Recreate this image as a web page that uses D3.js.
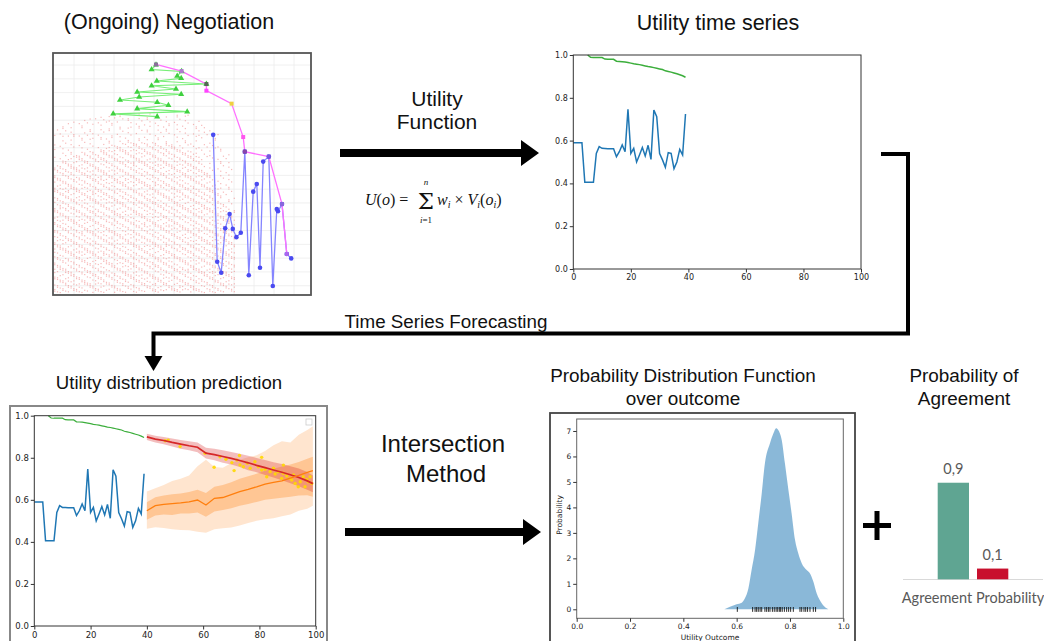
<!DOCTYPE html>
<html><head><meta charset="utf-8">
<script src="https://cdn.jsdelivr.net/npm/d3@7"></script>
<style>
body{margin:0;background:#fff;}
svg{display:block;}
</style></head><body>
<svg id="fig" width="1044" height="641"></svg>
<script>
// ---------------- data ----------------
// negotiation space: agent A utility (x) vs agent B utility (y)
const bidsB_u = [0.605,0.594,0.669,0.658,0.668,0.607,0.731,0.594,0.655,0.558,0.668,0.563,0.515,0.608,0.636,0.558,0.683,0.498,0.608];
const bidsB_v = [0.951,0.934,0.927,0.910,0.902,0.892,0.881,0.875,0.863,0.852,0.844,0.834,0.823,0.815,0.804,0.792,0.781,0.773,0.763];
const bidsA_u = [0.748,0.758,0.768,0.778,0.789,0.797,0.806,0.817,0.827,0.837,0.848,0.857,0.865,0.873,0.887,0.897,0.907,0.910,0.920,0.932,0.943];
const bidsA_v = [0.697,0.237,0.197,0.358,0.410,0.356,0.326,0.342,0.636,0.188,0.491,0.519,0.215,0.600,0.618,0.149,0.428,0.420,0.446,0.265,0.249];
const pareto_u = [0.605,0.669,0.731,0.731,0.794,0.823,0.827,0.887,0.920,0.932];
const pareto_v = [0.952,0.928,0.881,0.857,0.810,0.689,0.636,0.618,0.446,0.265];
const paretoColors = ['#8a6f9a','#b07ad0','#556655','#ff44ff','#f0d040','#ff55ee','#8844aa','#7755dd','#8866dd','#aa66ee'];
// outline of the outcome cloud (sparse upper edge and denser core)
const cloudU = [0.35,0.40,0.45,0.50,0.55,0.60,0.65,0.70,0.73,0.76,0.79,0.805];
const cloudTop = [0.72,0.75,0.76,0.77,0.775,0.775,0.77,0.77,0.74,0.70,0.62,0.48];
const cloudDenseTop = [0.58,0.62,0.64,0.66,0.67,0.67,0.66,0.63,0.58,0.50,0.40,0.30];

// utility time series (observed steps 0..39)
const oppUtility = [0.590,0.590,0.590,0.590,0.405,0.405,0.405,0.405,0.540,0.572,0.564,0.563,0.562,0.562,0.562,0.525,0.548,0.580,0.548,0.746,0.540,0.564,0.500,0.533,0.568,0.528,0.578,0.512,0.743,0.712,0.540,0.510,0.475,0.544,0.540,0.469,0.500,0.559,0.533,0.724];
const ownStart = 5;
const ownUtility = [1.000,0.989,0.988,0.988,0.988,0.988,0.981,0.980,0.980,0.980,0.971,0.970,0.969,0.967,0.965,0.962,0.959,0.957,0.955,0.952,0.949,0.946,0.944,0.941,0.938,0.935,0.932,0.926,0.923,0.920,0.916,0.912,0.908,0.903,0.896];

// forecast (steps 40..99)
const fcT      = [40,43,46,49,52,55,58,61,64,67,70,73,76,79,82,85,88,91,94,97,99];
const ownMid   = [0.899,0.889,0.882,0.873,0.865,0.857,0.850,0.822,0.815,0.806,0.797,0.787,0.776,0.764,0.753,0.742,0.731,0.719,0.706,0.690,0.677];
const ownLo    = [0.884,0.873,0.864,0.854,0.843,0.836,0.826,0.796,0.788,0.776,0.768,0.756,0.741,0.731,0.718,0.706,0.693,0.679,0.664,0.648,0.636];
const ownHi    = [0.914,0.905,0.899,0.892,0.885,0.878,0.873,0.848,0.843,0.836,0.827,0.819,0.810,0.799,0.789,0.779,0.770,0.760,0.749,0.732,0.716];
const oppMid   = [0.548,0.572,0.578,0.582,0.585,0.590,0.599,0.575,0.607,0.611,0.625,0.639,0.650,0.662,0.675,0.683,0.690,0.703,0.716,0.730,0.739];
const oppInLo  = [0.505,0.525,0.530,0.528,0.535,0.535,0.540,0.520,0.545,0.552,0.560,0.572,0.580,0.590,0.600,0.605,0.610,0.615,0.620,0.622,0.615];
const oppInHi  = [0.588,0.612,0.620,0.626,0.630,0.637,0.648,0.632,0.662,0.670,0.684,0.700,0.712,0.724,0.738,0.748,0.758,0.768,0.780,0.795,0.805];
const oppOutLo = [0.462,0.470,0.466,0.460,0.456,0.455,0.448,0.444,0.460,0.465,0.468,0.478,0.490,0.500,0.508,0.512,0.522,0.530,0.548,0.558,0.572];
const oppOutHi = [0.640,0.655,0.670,0.690,0.700,0.716,0.760,0.790,0.756,0.752,0.775,0.790,0.802,0.812,0.832,0.860,0.878,0.872,0.910,0.932,0.950];
const simT = [46.5,47.6,51.8,60.7,63.9,66.0,68.1,70.2,71.0,72.0,72.9,73.1,74.3,75.7,76.7,78.4,79.6,80.8,80.8,82.0,82.6,83.8,85.0,85.6,86.7,87.9,88.5,88.5,89.7,90.9,91.5,92.1,92.7,93.8,94.5,95.6,96.2,96.8,97.4,98.0,98.6];
const simV = [0.881,0.884,0.853,0.821,0.755,0.805,0.793,0.777,0.739,0.789,0.811,0.766,0.757,0.774,0.750,0.781,0.757,0.742,0.802,0.745,0.710,0.734,0.750,0.723,0.734,0.702,0.726,0.765,0.713,0.702,0.694,0.718,0.678,0.662,0.686,0.710,0.662,0.697,0.686,0.710,0.678];

// probability density over the agreement utility
const kdeX = [0.554,0.575,0.600,0.619,0.631,0.644,0.656,0.669,0.681,0.694,0.706,0.725,0.738,0.748,0.756,0.769,0.781,0.794,0.806,0.819,0.831,0.844,0.8625,0.875,0.8875,0.900,0.919,0.9375,0.944];
const kdeY = [0,0.10,0.20,0.26,0.43,0.82,1.54,2.33,3.38,4.55,5.73,6.52,6.91,7.11,7.04,6.65,5.73,4.69,3.77,2.72,2.20,1.81,1.54,1.41,1.09,0.63,0.24,0.04,0];
const rugX = [0.6025,0.660,0.669,0.675,0.681,0.688,0.694,0.706,0.7125,0.719,0.725,0.734,0.741,0.748,0.754,0.760,0.765,0.771,0.779,0.7875,0.795,0.8025,0.8125,0.8375,0.844,0.8525,0.859,0.866,0.875,0.8875,0.896];

// agreement probability
const agreeKeys = ['agree','noAgree'];
const agreeVals = [0.9, 0.1];
const agreeColors = ['#5fa592','#c8102e'];

const ticks01 = [0,0.2,0.4,0.6,0.8,1.0];
const ticks100 = [0,20,40,60,80,100];
const ticksPdfY = [0,1,2,3,4,5,6,7];

// ---------------- drawing ----------------
const svg = d3.select('#fig');
svg.append('rect').attr('width',1044).attr('height',641).attr('fill','#fff');
const TITLE = "'Liberation Sans', Arial, sans-serif";
const MPL = "'DejaVu Sans', sans-serif";

function title(x,y,txt,size,anchor='middle'){
  svg.append('text').attr('x',x).attr('y',y).attr('text-anchor',anchor)
    .attr('font-family',TITLE).attr('font-size',size).attr('fill','#111').text(txt);
}

// ===== negotiation space =====
const gA = svg.append('g');
const xN = d3.scaleLinear([0.35,0.99],[54,310]);
const yN = d3.scaleLinear([0.12,0.99],[294,54]);
const gridU = d3.range(0.40,0.96,0.05), gridV = d3.range(0.15,0.96,0.05);
gA.selectAll('.gv').data(gridU).join('line').attr('x1',d=>xN(d)).attr('x2',d=>xN(d)).attr('y1',54).attr('y2',294)
  .attr('stroke','#ececec').attr('stroke-width',0.8);
gA.selectAll('.gh').data(gridV).join('line').attr('y1',d=>yN(d)).attr('y2',d=>yN(d)).attr('x1',54).attr('x2',310)
  .attr('stroke','#ececec').attr('stroke-width',0.8);

// outcome cloud: columns of outcomes inside the outline, spread by an R2 low-discrepancy sequence
const topAt = d3.scaleLinear(cloudU, cloudTop).clamp(true);
const denseAt = d3.scaleLinear(cloudU, cloudDenseTop).clamp(true);
const A1 = 0.7548776662, A2 = 0.5698402910;
const frac = x => x - Math.floor(x);
const cloudPts = [];
d3.range(0.352, 0.805, 0.0068).forEach((u,ci)=>{
  d3.range(0, 62).forEach(k=>{
    const v = 0.125 + (k + frac(0.5 + ci*A1 + k*A2)) * 0.0105;
    if (v > topAt(u)) return;
    if (v > denseAt(u) && frac(ci*A2 + k*A1) < 0.6) return;
    if (frac(0.3 + ci*A2*2 + k*A1*3) < 0.25) return;
    cloudPts.push([u,v]);
  });
});
gA.append('g').selectAll('rect').data(cloudPts).join('rect')
  .attr('x',d=>xN(d[0])-0.6).attr('y',d=>yN(d[1])-0.6).attr('width',1.2).attr('height',1.2)
  .attr('fill','#ec6464').attr('opacity',0.45);

const lineN = d3.line().x(d=>xN(d[0])).y(d=>yN(d[1]));
const greenPts = d3.zip(bidsB_u,bidsB_v), bluePts = d3.zip(bidsA_u,bidsA_v), parPts = d3.zip(pareto_u,pareto_v);
gA.append('path').attr('d',lineN(greenPts)).attr('fill','none').attr('stroke','#77ee77').attr('stroke-width',1.1);
gA.append('path').attr('d',lineN(bluePts)).attr('fill','none').attr('stroke','#8585ff').attr('stroke-width',1.3);
gA.append('path').attr('d',lineN(parPts)).attr('fill','none').attr('stroke','#ff70ff').attr('stroke-width',1.3);
const tri = d3.symbol(d3.symbolTriangle, 16);
gA.selectAll('.gt').data(greenPts).join('path').attr('d',tri)
  .attr('transform',d=>`translate(${xN(d[0])},${yN(d[1])})`).attr('fill','#3fd03f');
gA.selectAll('.bc').data(bluePts).join('circle').attr('cx',d=>xN(d[0])).attr('cy',d=>yN(d[1])).attr('r',2.3)
  .attr('fill','#4a4af0');
gA.selectAll('.pm').data(parPts).join('rect').attr('x',d=>xN(d[0])-2).attr('y',d=>yN(d[1])-2).attr('width',4).attr('height',4)
  .attr('fill',(d,i)=>paretoColors[i]);
gA.append('rect').attr('x',53).attr('y',53).attr('width',258).attr('height',242).attr('fill','none')
  .attr('stroke','#555').attr('stroke-width',1.8);
title(169,29,'(Ongoing) Negotiation',21.5);

// ===== helper for matplotlib-like axes =====
function mplAxes(g, x, y, xt, yt, xfmt, yfmt, fs, col='#333'){
  const [x0,x1] = x.range(), [y0,y1] = y.range();
  g.append('rect').attr('x',x0).attr('y',y1).attr('width',x1-x0).attr('height',y0-y1)
    .attr('fill','none').attr('stroke',col).attr('stroke-width',1);
  const ax = g.append('g').attr('transform',`translate(0,${y0})`)
    .call(d3.axisBottom(x).tickValues(xt).tickFormat(xfmt).tickSize(3.5).tickPadding(2).tickSizeOuter(0));
  const ay = g.append('g').attr('transform',`translate(${x0},0)`)
    .call(d3.axisLeft(y).tickValues(yt).tickFormat(yfmt).tickSize(3.5).tickPadding(2).tickSizeOuter(0));
  [ax,ay].forEach(a=>{
    a.select('.domain').remove();
    a.selectAll('line').attr('stroke','#333');
    a.selectAll('text').attr('font-family',MPL).attr('font-size',fs).attr('fill','#222');
  });
}
const f1 = d3.format('.1f');

// ===== utility time series =====
const gB = svg.append('g');
const xB = d3.scaleLinear([0,100],[573.3,861]);
const yB = d3.scaleLinear([0,1],[269,55]);
const oppLine = (x,y)=>d3.line().x((d,i)=>x(i)).y(d=>y(d));
const ownLine = (x,y)=>d3.line().x((d,i)=>x(i+ownStart)).y(d=>y(d));
gB.append('path').attr('d',oppLine(xB,yB)(oppUtility)).attr('fill','none').attr('stroke','#1f77b4').attr('stroke-width',1.5);
gB.append('path').attr('d',ownLine(xB,yB)(ownUtility)).attr('fill','none').attr('stroke','#3cae3c').attr('stroke-width',1.5);
mplAxes(gB,xB,yB,ticks100,ticks01,d3.format('d'),f1,8);
title(718,30,'Utility time series',21.5);

// ===== utility distribution prediction =====
const gC = svg.append('g');
const xC = d3.scaleLinear([0,100],[34.3,315.7]);
const yC = d3.scaleLinear([0,1],[626,415.7]);
const band = (lo,hi)=>d3.area().x((d,i)=>xC(fcT[i])).y0((d,i)=>yC(lo[i])).y1((d,i)=>yC(hi[i]))(fcT);
const midLine = (arr)=>d3.line().x((d,i)=>xC(fcT[i])).y(d=>yC(d))(arr);
gC.append('path').attr('d',band(oppOutLo,oppOutHi)).attr('fill','#ff7f0e').attr('fill-opacity',0.2);
gC.append('path').attr('d',band(oppInLo,oppInHi)).attr('fill','#ff7f0e').attr('fill-opacity',0.3);
gC.append('path').attr('d',band(ownLo,ownHi)).attr('fill','#d62728').attr('fill-opacity',0.3);
gC.selectAll('.sim').data(d3.zip(simT,simV)).join('circle').attr('cx',d=>xC(d[0])).attr('cy',d=>yC(d[1])).attr('r',1.7)
  .attr('fill','#ffd800').attr('opacity',0.9);
gC.append('path').attr('d',midLine(ownMid)).attr('fill','none').attr('stroke','#d62728').attr('stroke-width',1.7);
gC.append('path').attr('d',midLine(oppMid)).attr('fill','none').attr('stroke','#ff7f0e').attr('stroke-width',1.3);
gC.append('path').attr('d',oppLine(xC,yC)(oppUtility)).attr('fill','none').attr('stroke','#1f77b4').attr('stroke-width',1.5);
gC.append('path').attr('d',ownLine(xC,yC)(ownUtility)).attr('fill','none').attr('stroke','#3cae3c').attr('stroke-width',1.2);
mplAxes(gC,xC,yC,ticks100,ticks01,d3.format('d'),f1,8.5);
gC.append('rect').attr('x',306).attr('y',419).attr('width',6).attr('height',6).attr('fill','#fff').attr('stroke','#ccc').attr('stroke-width',0.8);
gC.append('rect').attr('x',10).attr('y',406).attr('width',317).attr('height',245).attr('fill','none')
  .attr('stroke','#888').attr('stroke-width',2);
title(169,389,'Utility distribution prediction',18.6);

// ===== probability density =====
const gD = svg.append('g');
const xD = d3.scaleLinear([0,1],[576.7,843.3]);
const yD = d3.scaleLinear([-0.353,7.47],[618.3,419]);
gD.append('path').attr('d',d3.area().curve(d3.curveMonotoneX).x((d,i)=>xD(kdeX[i])).y0(yD(0)).y1(d=>yD(d))(kdeY))
  .attr('fill','#1f77b4').attr('fill-opacity',0.52);
gD.selectAll('.rug').data(rugX).join('line').attr('x1',d=>xD(d)).attr('x2',d=>xD(d)).attr('y1',yD(0.09)).attr('y2',yD(-0.1))
  .attr('stroke','#111').attr('stroke-width',0.9);
mplAxes(gD,xD,yD,ticks01,ticksPdfY,f1,d3.format('d'),7.5,'#666');
gD.append('text').attr('transform','translate(562,515) rotate(-90)').attr('text-anchor','middle')
  .attr('font-family',MPL).attr('font-size',7.5).attr('fill','#222').text('Probability');
gD.append('text').attr('x',710).attr('y',640).attr('text-anchor','middle')
  .attr('font-family',MPL).attr('font-size',7.5).attr('fill','#222').text('Utility Outcome');
gD.append('rect').attr('x',550).attr('y',413).attr('width',305).attr('height',240).attr('fill','none')
  .attr('stroke','#444').attr('stroke-width',1.8);
title(683,382,'Probability Distribution Function',18.9);
title(683,405,'over outcome',18.9);

// ===== agreement probability bars =====
const gE = svg.append('g');
const xE = d3.scaleBand().domain(agreeKeys).range([937.7,1008.3]).paddingInner(0.2036).paddingOuter(0);
const yE = d3.scaleLinear([0,1],[579.3,472]);
const comma = d3.formatLocale({decimal:',',thousands:'.',grouping:[3],currency:['','']}).format('.1f');
gE.append('line').attr('x1',903).attr('x2',1043).attr('y1',579.5).attr('y2',579.5).attr('stroke','#d9d9d9').attr('stroke-width',1);
gE.selectAll('.bar').data(agreeVals).join('rect').attr('x',(d,i)=>xE(agreeKeys[i])).attr('width',xE.bandwidth())
  .attr('y',d=>yE(d)).attr('height',d=>yE(0)-yE(d)).attr('fill',(d,i)=>agreeColors[i]);
gE.selectAll('.lbl').data(agreeVals).join('text').attr('x',(d,i)=>xE(agreeKeys[i])+xE.bandwidth()/2).attr('y',d=>yE(d)-9)
  .attr('text-anchor','middle').attr('font-family',"Lato, 'Liberation Sans', sans-serif").attr('font-size',14.5).attr('fill','#595959')
  .text(d=>comma(d));
gE.append('text').attr('x',973).attr('y',603).attr('text-anchor','middle').attr('font-family',"Lato, 'Liberation Sans', sans-serif")
  .attr('font-size',14.5).attr('fill','#595959').text('Agreement Probability');
title(964,382,'Probability of',18.9);
title(964,405,'Agreement',18.9);

// ===== flow arrows and captions =====
function arrowRight(x0,x1,y,th,hw,hl){
  svg.append('path').attr('d',`M${x0},${y-th/2}H${x1-hl}V${y-hw}L${x1},${y}L${x1-hl},${y+hw}V${y+th/2}H${x0}Z`).attr('fill','#000');
}
arrowRight(340,539,153,8,13,18);
arrowRight(345,541,532,8,13,18);
title(437,106,'Utility',21);
title(437,129,'Function',21);
title(443,452,'Intersection',24);
title(446,482,'Method',24);
svg.append('path').attr('d','M881,154H908V333.5H153.5V360').attr('fill','none').attr('stroke','#000').attr('stroke-width',4);
svg.append('path').attr('d','M144.5,356L162.5,356L153.5,371Z').attr('fill','#000');
title(446,328,'Time Series Forecasting',18.8);
// plus sign
svg.append('path').attr('d','M863,525.5H891M877,511V540').attr('stroke','#000').attr('stroke-width',5);

// formula U(o) = sum_{i=1}^{n} w_i x V_i(o_i)
const SERIF = "'Liberation Serif','DejaVu Serif',serif";
const fm = svg.append('g').attr('font-family',SERIF).attr('fill','#111');
const t1 = fm.append('text').attr('x',365).attr('y',205).attr('font-size',16);
t1.append('tspan').attr('font-style','italic').text('U');
t1.append('tspan').text('(');
t1.append('tspan').attr('font-style','italic').text('o');
t1.append('tspan').text(') =');
fm.append('text').attr('x',426).attr('y',209).attr('text-anchor','middle').attr('font-size',23)
  .attr('font-family',"'DejaVu Serif',serif").text('\u03a3');
fm.append('text').attr('x',426).attr('y',185).attr('text-anchor','middle').attr('font-size',9).attr('font-style','italic').text('n');
const t2 = fm.append('text').attr('x',426).attr('y',223).attr('text-anchor','middle').attr('font-size',9);
t2.append('tspan').attr('font-style','italic').text('i');
t2.append('tspan').text('=1');
const t3 = fm.append('text').attr('x',437).attr('y',205).attr('font-size',16);
t3.append('tspan').attr('font-style','italic').text('w');
t3.append('tspan').attr('font-style','italic').attr('font-size',10).attr('dy',3).text('i');
t3.append('tspan').attr('dy',-3).text(' \u00d7 ');
t3.append('tspan').attr('font-style','italic').text('V');
t3.append('tspan').attr('font-style','italic').attr('font-size',10).attr('dy',3).text('i');
t3.append('tspan').attr('dy',-3).text('(');
t3.append('tspan').attr('font-style','italic').text('o');
t3.append('tspan').attr('font-style','italic').attr('font-size',10).attr('dy',3).text('i');
t3.append('tspan').attr('dy',-3).text(')');
</script>
</body></html>
